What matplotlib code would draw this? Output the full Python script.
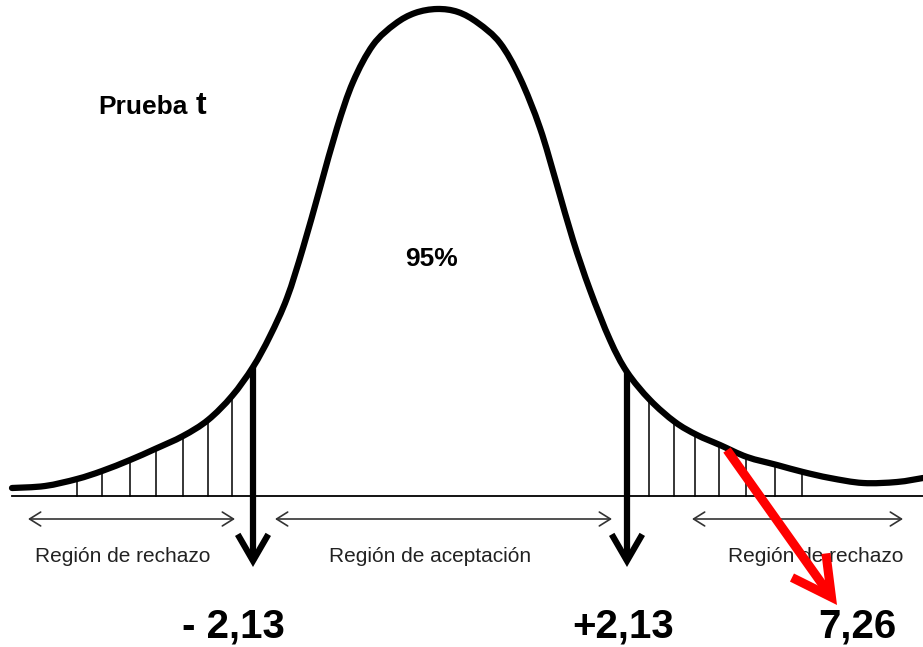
import numpy as np
import matplotlib
matplotlib.use('Agg')
import matplotlib.pyplot as plt
from matplotlib.patches import FancyArrowPatch, PathPatch
from matplotlib.path import Path

plt.rcParams['font.family'] = ['Liberation Sans', 'DejaVu Sans']

# curva (forma dibujada a mano)
curva_x = [12, 45, 77, 102, 130, 155, 183, 208, 232, 253, 270, 287, 303, 320, 337,
           353, 373, 395, 415, 437, 458, 478, 500, 520, 540, 557, 573, 590, 610, 627,
           650, 675, 697, 720, 747, 777, 803, 830, 863, 897, 923]
curva_y = [488, 486, 479, 471, 460, 449, 436, 420, 396, 367, 336, 298, 248, 188, 128,
           82, 45, 24, 13, 9, 12, 23, 43, 78, 128, 185, 240, 290, 340, 372,
           400, 422, 435, 445, 457, 465, 472, 478, 483, 482, 478]

# rayado de las colas
rayas_izq = [77, 102, 130, 156, 183, 208, 232]
rayas_der = [649, 674, 695, 719, 746, 775, 802]

# valores criticos y observado
x_crit = [253, 627]
etiq_crit = ['- 2,13', '+2,13']
etiq_obs = '7,26'

base_y = 496

fig = plt.figure(figsize=(9.23, 6.47), dpi=100)
ax = fig.add_axes([0, 0, 1, 1])
ax.set_xlim(0, 923)
ax.set_ylim(647, 0)
ax.axis('off')

# linea base
ax.plot([12, 923], [base_y, base_y], color='black', lw=1.3)

# rayas verticales
for xr in rayas_izq + rayas_der:
    ytop = np.interp(xr, curva_x, curva_y)
    ax.plot([xr, xr], [base_y, ytop], color='black', lw=1.1)

# curva suave (bezier por los puntos leidos)
pts = np.column_stack([curva_x, curva_y]).astype(float)
verts = [pts[0]]
codes = [Path.MOVETO]
for i in range(len(pts) - 1):
    p0 = pts[max(i - 1, 0)]
    p1 = pts[i]
    p2 = pts[i + 1]
    p3 = pts[min(i + 2, len(pts) - 1)]
    verts += [p1 + (p2 - p0) / 6, p2 - (p3 - p1) / 6, p2]
    codes += [Path.CURVE4] * 3
ax.add_patch(PathPatch(Path(verts, codes), fill=False, edgecolor='black', lw=4.5,
                       capstyle='round', zorder=5))

# flechas verticales en los valores criticos
for xc in x_crit:
    ytop = np.interp(xc, curva_x, curva_y)
    ar = FancyArrowPatch((xc, ytop), (xc, 567), arrowstyle='->,head_length=19,head_width=11',
                         mutation_scale=1, lw=4.5, color='black', shrinkA=0, shrinkB=0,
                         capstyle='butt', joinstyle='miter', zorder=6)
    ax.add_patch(ar)

# flechas de regiones
regiones = [(28, 235), (275, 612), (692, 903)]
for a, b in regiones:
    ar = FancyArrowPatch((a, 519), (b, 519), arrowstyle='<->,head_length=8,head_width=5',
                         mutation_scale=1, lw=1.2, color='#333333', shrinkA=0, shrinkB=0)
    ax.add_patch(ar)

ax.text(123, 562, 'Región de rechazo', fontsize=15, ha='center', va='baseline', color='#222222')
ax.text(430, 562, 'Región de aceptación', fontsize=15, ha='center', va='baseline', color='#222222')
ax.text(816, 562, 'Región de rechazo', fontsize=15, ha='center', va='baseline', color='#222222')

# textos
ax.text(98, 114, 'Prueba', fontsize=19, fontweight='bold', ha='left', va='baseline')
ax.text(196, 114, 't', fontsize=23, fontweight='bold', ha='left', va='baseline')
ax.text(432, 266, '95%', fontsize=19, fontweight='bold', ha='center', va='baseline')

ax.text(233, 638, etiq_crit[0], fontsize=29, fontweight='bold', ha='center', va='baseline')
ax.text(623, 638, etiq_crit[1], fontsize=29, fontweight='bold', ha='center', va='baseline')
ax.text(857, 638, etiq_obs, fontsize=29, fontweight='bold', ha='center', va='baseline')

# flecha roja
roja = FancyArrowPatch((727, 450), (837, 605), arrowstyle='->,head_length=28,head_width=15',
                       mutation_scale=1, lw=6.5, color='#ff0000', shrinkA=0, shrinkB=0,
                       capstyle='butt', joinstyle='miter', zorder=7)
ax.add_patch(roja)

fig.savefig('out.png', dpi=100)
